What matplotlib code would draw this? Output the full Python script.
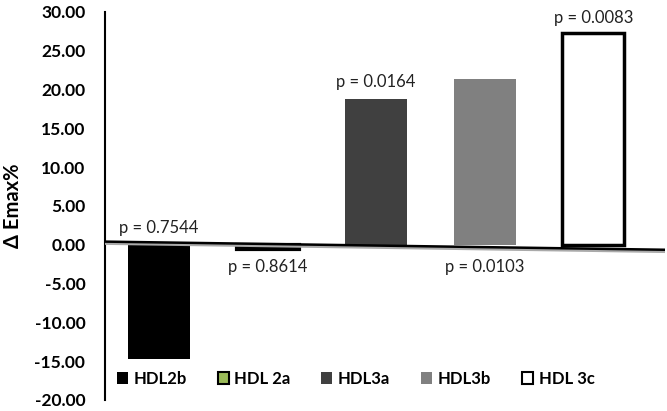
import matplotlib.pyplot as plt
from matplotlib.patches import Patch

# data
groups = ["HDL2b", "HDL 2a", "HDL3a", "HDL3b", "HDL 3c"]
delta_emax = [-14.7, -0.5, 18.8, 21.3, 27.3]
p_labels = ["p = 0.7544", "p = 0.8614", "p = 0.0164", "p = 0.0103", "p = 0.0083"]
p_label_y = [2.2, -2.9, 21.0, -2.9, 29.2]
yticks = [-20, -15, -10, -5, 0, 5, 10, 15, 20, 25, 30]

fills = ["#000000", "#9bbb59", "#404040", "#808080", "#ffffff"]
edges = ["#000000", "#000000", "#404040", "#808080", "#000000"]
lws = [0, 3, 0, 0, 2.5]

plt.rcParams['font.family'] = ['Lato', 'DejaVu Sans']

fig = plt.figure(figsize=(6.67, 4.11), dpi=100)
ax = fig.add_axes([0.157, 0.027, 0.84, 0.944])

x = list(range(len(groups)))
ax.bar(x, delta_emax, width=0.57, color=fills, edgecolor=edges, linewidth=lws, zorder=2)

for xi, lab, yy in zip(x, p_labels, p_label_y):
    ax.text(xi, yy, lab, ha="center", va="center", fontsize=12, color="#222222")

ax.set_ylim(-20, 30)
ax.set_xlim(-0.5, 4.66)
ax.set_yticks(yticks)
ax.set_yticklabels(["%.2f" % v for v in yticks], fontweight="bold", fontsize=12.5)
ax.tick_params(axis="y", length=0, pad=14)
ax.set_xticks([])
for s in ["top", "right", "bottom"]:
    ax.spines[s].set_visible(False)
ax.spines["left"].set_linewidth(1.5)
ax.set_ylabel("Δ Emax%", fontsize=14.5, fontweight="bold")
ax.yaxis.set_label_coords(-0.145, 0.5)

# slightly tilted zero line as drawn in the original
ax.plot([0, 1], [0.404, 0.383], transform=ax.transAxes, color="#aaaaaa", lw=2.5, zorder=3)
ax.plot([0, 1], [0.408, 0.387], transform=ax.transAxes, color="black", lw=1.8, zorder=4)

handles = [Patch(facecolor=f, edgecolor=("black" if w else f), linewidth=(1.5 if w else 0))
           for f, w in zip(fills, lws)]
leg = ax.legend(handles, groups, ncol=5, loc="lower left", bbox_to_anchor=(-0.005, -0.005),
                frameon=False, handlelength=0.65, handleheight=0.65, handletextpad=0.35,
                columnspacing=1.85, prop={"weight": "bold", "size": 12})

fig.savefig("out.png", dpi=100)
